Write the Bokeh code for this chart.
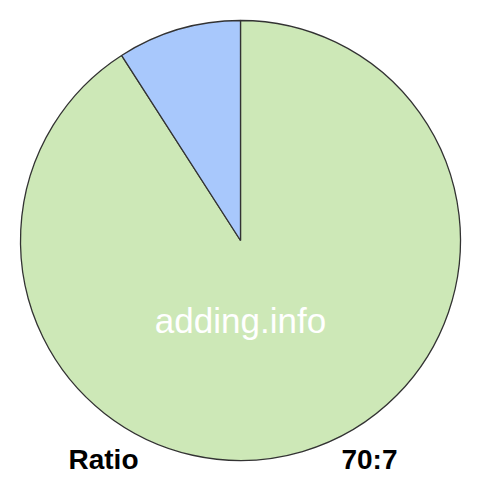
import math
from bokeh.plotting import figure
from bokeh.models import ColumnDataSource, Range1d
from bokeh.core.properties import value
from bokeh.embed import file_html
from bokeh.resources import INLINE

# Data
slice_names = ["first", "second"]
slice_values = [70, 7]
slice_colors = ["#cde8b7", "#a8c8fc"]
ratio_label = "Ratio"
ratio_text = "70:7"
watermark = "adding.info"

W = H = 480
p = figure(width=W, height=H, output_backend="svg", toolbar_location=None,
           x_range=Range1d(0, W), y_range=Range1d(0, H), min_border=0)
p.axis.visible = False
p.grid.visible = False
p.outline_line_color = None
p.background_fill_color = "white"
p.border_fill_color = "white"

cx, cy, r = 240, 240, 220
total = sum(slice_values)
# slices go clockwise from 12 o'clock
starts, ends = [], []
acc = 0.0
for v in slice_values:
    a0 = math.pi / 2 - 2 * math.pi * acc / total
    acc += v
    a1 = math.pi / 2 - 2 * math.pi * acc / total
    starts.append(a1)
    ends.append(a0)

src = ColumnDataSource(dict(x=[cx] * len(slice_values), y=[cy] * len(slice_values),
                            start=starts, end=ends, color=slice_colors, name=slice_names))
p.wedge(x="x", y="y", radius=r, start_angle="start", end_angle="end",
        direction="anticlock", fill_color="color", line_color="#333333",
        line_width=1.3, source=src)

p.text(x=[240], y=[160], text=[watermark], text_color="white",
       text_font=value("Liberation Sans"), text_font_size="35px",
       text_align="center", text_baseline="alphabetic")
p.text(x=[68], y=[21], text=[ratio_label], text_color="black",
       text_font=value("Liberation Sans"), text_font_size="28px", text_font_style="bold",
       text_align="left", text_baseline="alphabetic")
p.text(x=[397], y=[21], text=[ratio_text], text_color="black",
       text_font=value("Liberation Sans"), text_font_size="28px", text_font_style="bold",
       text_align="right", text_baseline="alphabetic")

open("out.html", "w").write(file_html(p, INLINE))
